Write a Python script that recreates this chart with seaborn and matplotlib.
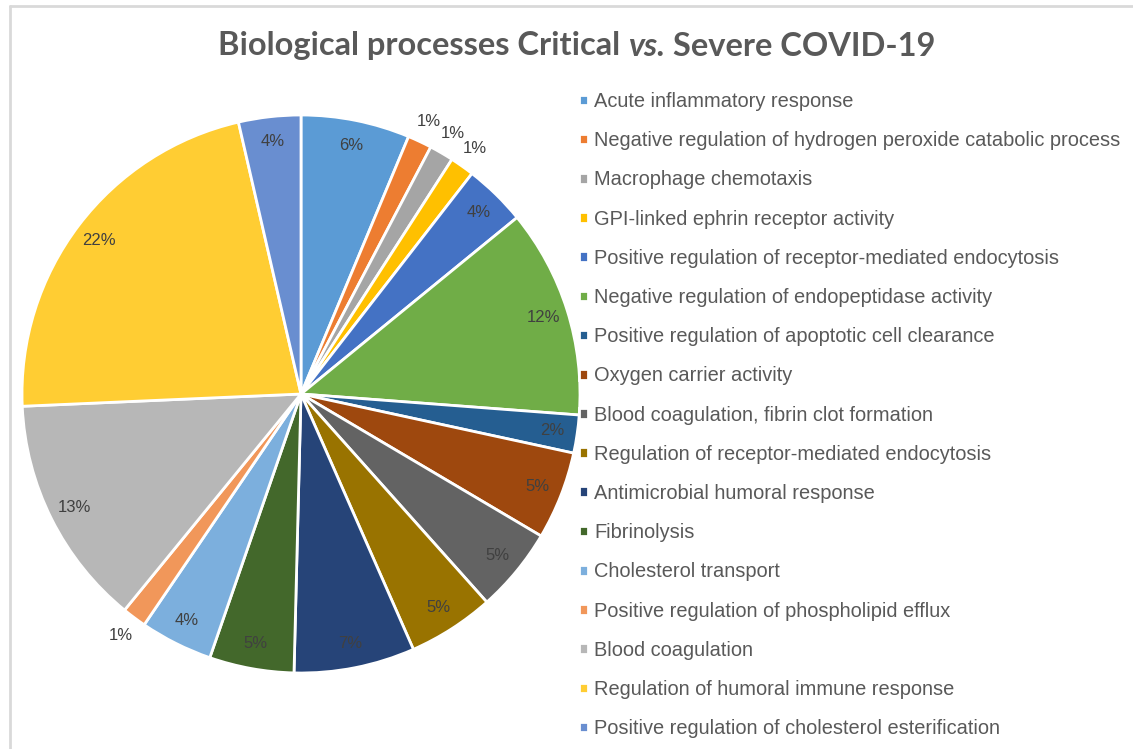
import numpy as np
import seaborn as sns
import matplotlib
matplotlib.use("Agg")
from matplotlib import pyplot as plt
from matplotlib.lines import Line2D

processes = [
    "Acute inflammatory response",
    "Negative regulation of hydrogen peroxide catabolic process",
    "Macrophage chemotaxis",
    "GPI-linked ephrin receptor activity",
    "Positive regulation of receptor-mediated endocytosis",
    "Negative regulation of endopeptidase activity",
    "Positive regulation of apoptotic cell clearance",
    "Oxygen carrier activity",
    "Blood coagulation, fibrin clot formation",
    "Regulation of receptor-mediated endocytosis",
    "Antimicrobial humoral response",
    "Fibrinolysis",
    "Cholesterol transport",
    "Positive regulation of phospholipid efflux",
    "Blood coagulation",
    "Regulation of humoral immune response",
    "Positive regulation of cholesterol esterification",
]
shares = [6.3, 1.4, 1.4, 1.4, 3.6, 12.1, 2.2, 5.1, 4.9, 5.0, 7.0, 4.9, 4.2, 1.4, 13.4, 22.1, 3.6]
colors = ["#5B9BD5", "#ED7D31", "#A5A5A5", "#FFC000", "#4472C4", "#70AD47",
          "#255E91", "#9E480E", "#636363", "#997300", "#264478", "#43682B",
          "#7CAFDD", "#F1975A", "#B7B7B7", "#FFCD33", "#698ED0"]

sns.set_theme(style="white")
plt.rcParams['font.family'] = ['Liberation Sans', 'DejaVu Sans']

fig = plt.figure(figsize=(11.33, 7.49), dpi=100)
fig.patch.set_facecolor("white")

# chart frame (left and top edges visible)
fig.add_artist(Line2D([10 / 1133, 10 / 1133], [0, 1 - 6 / 749], color="#d9d9d9", lw=2))
fig.add_artist(Line2D([10 / 1133, 1], [1 - 6 / 749, 1 - 6 / 749], color="#d9d9d9", lw=2))

ax = fig.add_axes([22 / 1133, 1 - 673 / 749, 558 / 1133, 558 / 749])
wedges, _ = ax.pie(shares, colors=colors, startangle=90, counterclock=False,
                   wedgeprops=dict(edgecolor="white", linewidth=2))
ax.set_xlim(-1, 1)
ax.set_ylim(-1, 1)
ax.set_aspect("equal")

total = sum(shares)
for w, v in zip(wedges, shares):
    mid = np.deg2rad((w.theta1 + w.theta2) / 2)
    r = 1.08 if v / total < 0.015 else 0.91
    ax.text(r * np.cos(mid), r * np.sin(mid), f"{round(100 * v / total)}%",
            ha="center", va="center", fontsize=12, color="#404040", clip_on=False)

leg = fig.legend(wedges, processes, loc="upper left", bbox_to_anchor=(561 / 1133, 1 - 74 / 749),
                 frameon=False, fontsize=14.4, handlelength=0.45, handleheight=0.45,
                 handletextpad=0.3, labelspacing=1.01, labelcolor="#595959")

# title with italic "vs."
title_y = 1 - 46 / 749
parts = [("Biological processes Critical ", "normal"), ("vs.", "italic"), (" Severe COVID-19", "normal")]
fig.canvas.draw()
renderer = fig.canvas.get_renderer()
texts = []
for s, style in parts:
    t = fig.text(0, title_y, s, fontsize=23.5, fontweight="bold", style=style,
                 family=["Lato", "DejaVu Sans"], color="#595959", va="center", ha="left")
    texts.append(t)
widths = [t.get_window_extent(renderer).width / fig.bbox.width for t in texts]
x = 577 / 1133 - sum(widths) / 2
for t, wdt in zip(texts, widths):
    t.set_x(x)
    x += wdt

fig.savefig("out.png", dpi=100)
